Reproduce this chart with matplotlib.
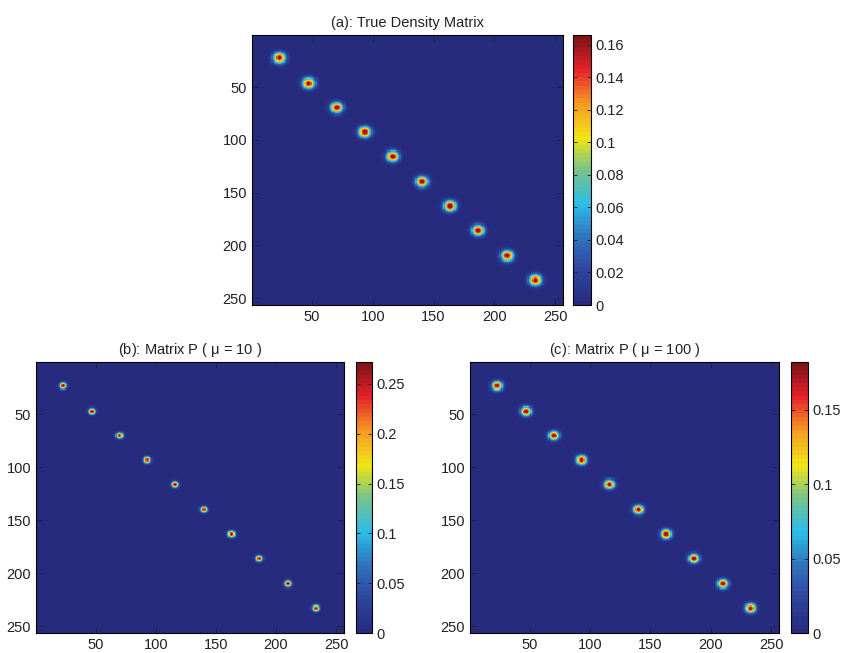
import numpy as np
import matplotlib
matplotlib.use('Agg')
import matplotlib.pyplot as plt
from matplotlib.colors import LinearSegmentedColormap

plt.rcParams['font.family'] = ['Liberation Sans', 'DejaVu Sans']
plt.rcParams['font.size'] = 10.5

# grid size and blob layout along the diagonal
n_grid = 256
centers = [23, 47, 70, 93, 116, 140, 163, 186, 210, 233]

# peak height and width of each diagonal blob per panel
peak_true, sigma_true = 0.166, 3.5
peak_p10, sigma_p10 = 0.272, 2.0
peak_p100, sigma_p100 = 0.182, 3.0

titles = ['(a): True Density Matrix',
          r'(b): Matrix P ( $\mathregular{\mu}$ = 10 )',
          r'(c): Matrix P ( $\mathregular{\mu}$ = 100 )']
axis_ticks = [50, 100, 150, 200, 250]
cbar_ticks_a = [0, 0.02, 0.04, 0.06, 0.08, 0.1, 0.12, 0.14, 0.16]
cbar_ticks_b = [0, 0.05, 0.1, 0.15, 0.2, 0.25]
cbar_ticks_c = [0, 0.05, 0.1, 0.15]

# jet-like map with the muted tones of a printed figure, 64 levels
jet_print = LinearSegmentedColormap.from_list('jet_print', [
    (0.00, '#272b7d'), (0.12, '#2d449c'), (0.25, '#2f74bd'),
    (0.37, '#2cbcea'), (0.50, '#78c28a'), (0.62, '#f1e516'),
    (0.75, '#f59a25'), (0.88, '#e4202a'), (1.00, '#7e1416')], N=64)


def DENSITY(peak, sigma):
    idx = np.arange(1, n_grid + 1)
    rr, cc = np.meshgrid(idx, idx, indexing='ij')
    mat = np.zeros((n_grid, n_grid))
    for c in centers:
        mat += peak * np.exp(-((rr - c) ** 2 + (cc - c) ** 2) / (2 * sigma ** 2))
    return mat


def PANEL(fig, ax_rect, cb_rect, mat, title, cticks):
    ax = fig.add_axes(ax_rect)
    im = ax.imshow(mat, cmap=jet_print, extent=(0.5, n_grid + 0.5, n_grid + 0.5, 0.5),
                   aspect='auto', interpolation='nearest', vmin=0, vmax=mat.max())
    ax.set_xticks(axis_ticks)
    ax.set_yticks(axis_ticks)
    ax.tick_params(direction='in', top=True, right=True, length=4, width=0.6, colors='#222222')
    for s in ax.spines.values():
        s.set_linewidth(0.8)
    ax.set_title(title, fontsize=10.5, pad=6, color='#222222')
    cax = fig.add_axes(cb_rect)
    cb = fig.colorbar(im, cax=cax, ticks=cticks)
    cb.ax.set_yticklabels([('%g' % t) for t in cticks])
    cb.ax.tick_params(direction='in', left=True, right=True, length=3, width=0.6, colors='#222222')
    cb.outline.set_linewidth(0.8)
    return ax


fig = plt.figure(figsize=(8.41, 6.53), dpi=100)

PANEL(fig, [0.2996, 0.5329, 0.3698, 0.4135], [0.6813, 0.5329, 0.0214, 0.4135],
      DENSITY(peak_true, sigma_true), titles[0], cbar_ticks_a)
PANEL(fig, [0.0428, 0.0306, 0.3662, 0.415], [0.4233, 0.0306, 0.019, 0.415],
      DENSITY(peak_p10, sigma_p10), titles[1], cbar_ticks_b)
PANEL(fig, [0.5589, 0.0306, 0.3674, 0.415], [0.9405, 0.0306, 0.0202, 0.415],
      DENSITY(peak_p100, sigma_p100), titles[2], cbar_ticks_c)

fig.savefig('out.png', dpi=100)
